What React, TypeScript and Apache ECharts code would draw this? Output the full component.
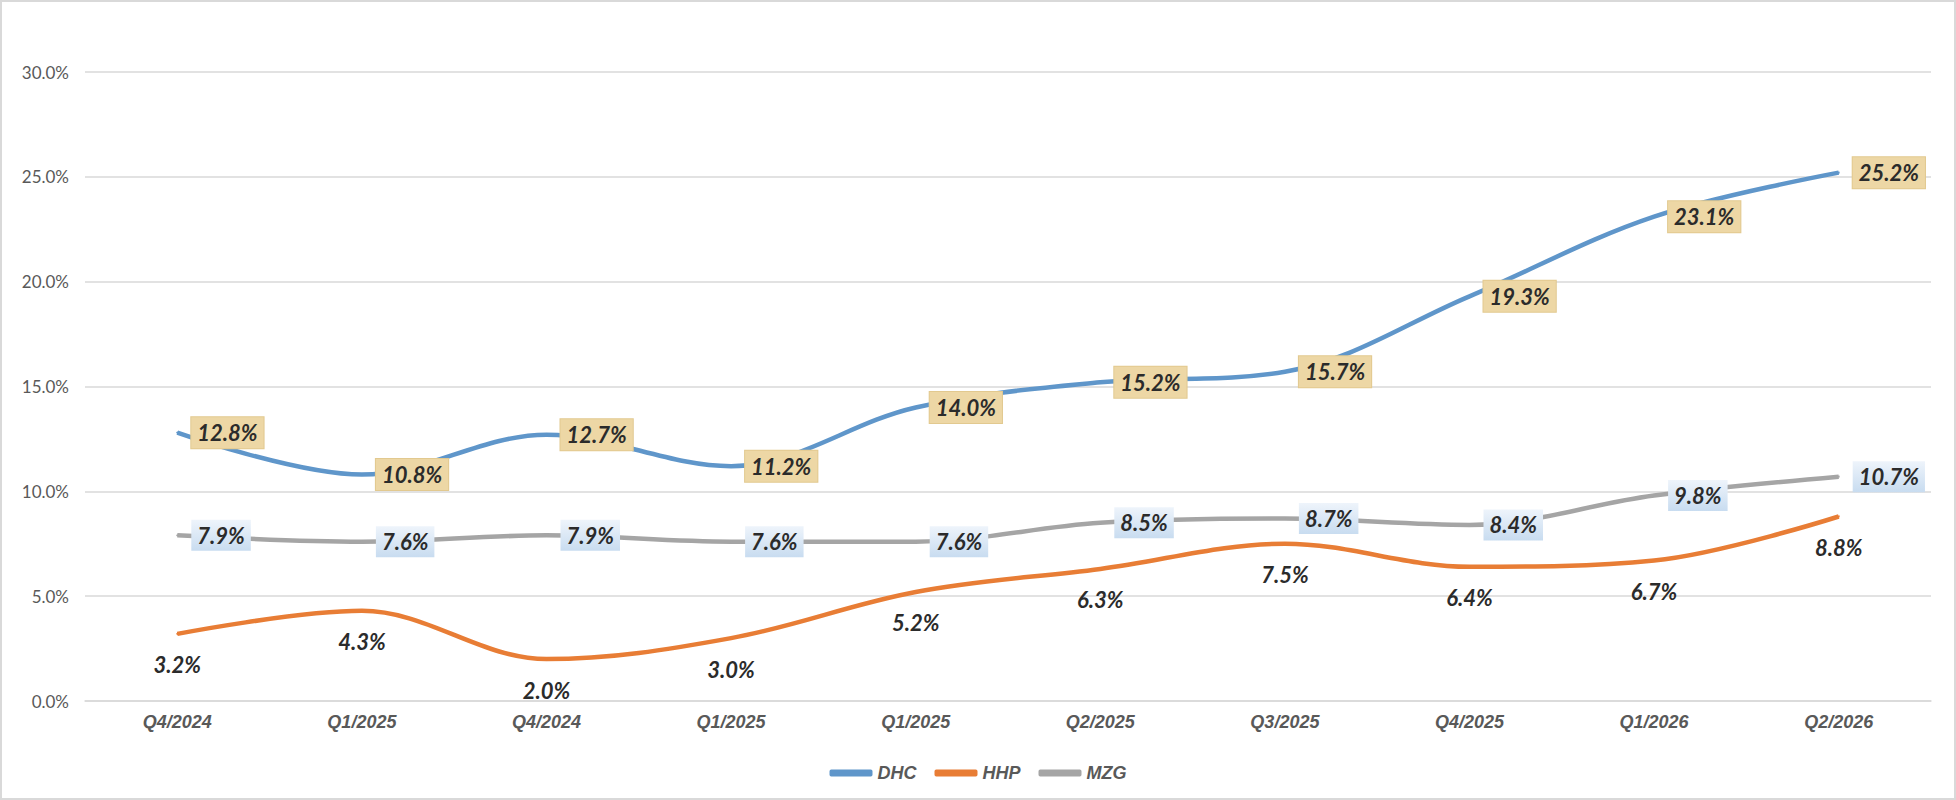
import React, { useEffect, useRef } from 'react';
import * as echarts from 'echarts';

const categories = ['Q4/2024', 'Q1/2025', 'Q4/2024', 'Q1/2025', 'Q1/2025', 'Q2/2025', 'Q3/2025', 'Q4/2025', 'Q1/2026', 'Q2/2026'];
const dhc = [12.8, 10.8, 12.7, 11.2, 14.0, 15.2, 15.7, 19.3, 23.1, 25.2];
const hhp = [3.2, 4.3, 2.0, 3.0, 5.2, 6.3, 7.5, 6.4, 6.7, 8.8];
const mzg = [7.9, 7.6, 7.9, 7.6, 7.6, 8.5, 8.7, 8.4, 9.8, 10.7];

const pct = (v: number) => `${v.toFixed(1)}%`;

const labelFont = {
  fontFamily: 'Lato, "Noto Sans", sans-serif',
  fontSize: 22,
  fontWeight: 'bold' as const,
  fontStyle: 'italic' as const,
  color: '#2B2B2B',
};

const App: React.FC = () => {
  const chartRef = useRef<HTMLDivElement>(null);

  useEffect(() => {
    if (!chartRef.current) return;
    const chart = echarts.init(chartRef.current, undefined, { renderer: 'svg' });

    const option: echarts.EChartsOption = {
      animation: false,
      backgroundColor: '#ffffff',
      graphic: [
        {
          type: 'rect',
          shape: { x: 1, y: 1, width: 1954, height: 798 },
          style: { fill: 'none', stroke: '#D9D9D9', lineWidth: 2 },
          silent: true,
        },
      ],
      grid: { left: 85, right: 25, top: 72, bottom: 99 },
      legend: {
        left: 'center',
        top: 759,
        itemWidth: 43,
        itemHeight: 7,
        itemGap: 18,
        icon: 'roundRect',
        textStyle: {
          fontFamily: '"Liberation Sans", Arial, sans-serif',
          fontSize: 18,
          fontWeight: 'bold',
          fontStyle: 'italic',
          color: '#595959',
        },
        data: ['DHC', 'HHP', 'MZG'],
      },
      xAxis: {
        type: 'category',
        data: categories,
        boundaryGap: true,
        axisLine: { show: true, lineStyle: { color: '#D9D9D9', width: 1.5 } },
        axisTick: { show: false },
        axisLabel: {
          margin: 12,
          fontFamily: '"Liberation Sans", Arial, sans-serif',
          fontSize: 18,
          fontWeight: 'bold',
          fontStyle: 'italic',
          color: '#595959',
        },
      },
      yAxis: {
        type: 'value',
        min: 0,
        max: 30,
        interval: 5,
        axisLine: { show: false },
        axisTick: { show: false },
        splitLine: { lineStyle: { color: '#D9D9D9', width: 1.5 } },
        axisLabel: {
          margin: 16,
          formatter: (v: number) => pct(v),
          fontFamily: 'Lato, "Noto Sans", sans-serif',
          fontSize: 17,
          color: '#595959',
        },
      },
      series: [
        {
          name: 'DHC',
          type: 'line',
          data: dhc,
          smooth: 0.35,
          symbol: 'circle',
          symbolSize: 2,
          showSymbol: true,
          lineStyle: { color: '#5F96CA', width: 4.5 },
          itemStyle: { color: '#5F96CA' },
          z: 3,
          label: {
            show: true,
            position: 'right',
            distance: 13,
            formatter: (p: any) => pct(p.value),
            ...labelFont,
            backgroundColor: '#EDD7A5',
            borderColor: '#E2C98F',
            borderWidth: 1,
            padding: [5, 6, 4, 6],
          },
        },
        {
          name: 'HHP',
          type: 'line',
          data: hhp,
          smooth: 0.35,
          symbol: 'circle',
          symbolSize: 2,
          showSymbol: true,
          lineStyle: { color: '#E87D35', width: 4.5 },
          itemStyle: { color: '#E87D35' },
          z: 2,
          label: {
            show: true,
            position: 'bottom',
            distance: 19,
            formatter: (p: any) => pct(p.value),
            ...labelFont,
          },
        },
        {
          name: 'MZG',
          type: 'line',
          data: mzg,
          smooth: 0.35,
          symbol: 'circle',
          symbolSize: 2,
          showSymbol: true,
          lineStyle: { color: '#A5A5A5', width: 4.5 },
          itemStyle: { color: '#A5A5A5' },
          z: 2,
          label: {
            show: true,
            position: 'right',
            distance: 13,
            formatter: (p: any) => pct(p.value),
            ...labelFont,
            backgroundColor: {
              type: 'linear',
              x: 0,
              y: 0,
              x2: 0,
              y2: 1,
              colorStops: [
                { offset: 0, color: '#EEF4FB' },
                { offset: 1, color: '#C8DCF0' },
              ],
            } as any,
            padding: [5, 6, 4, 6],
          },
        },
      ],
    };

    chart.setOption(option);
    return () => {
      chart.dispose();
    };
  }, []);

  return (
    <div
      ref={chartRef}
      style={{ position: 'fixed', left: 0, top: 0, width: 1956, height: 800 }}
    />
  );
};

export default App;
